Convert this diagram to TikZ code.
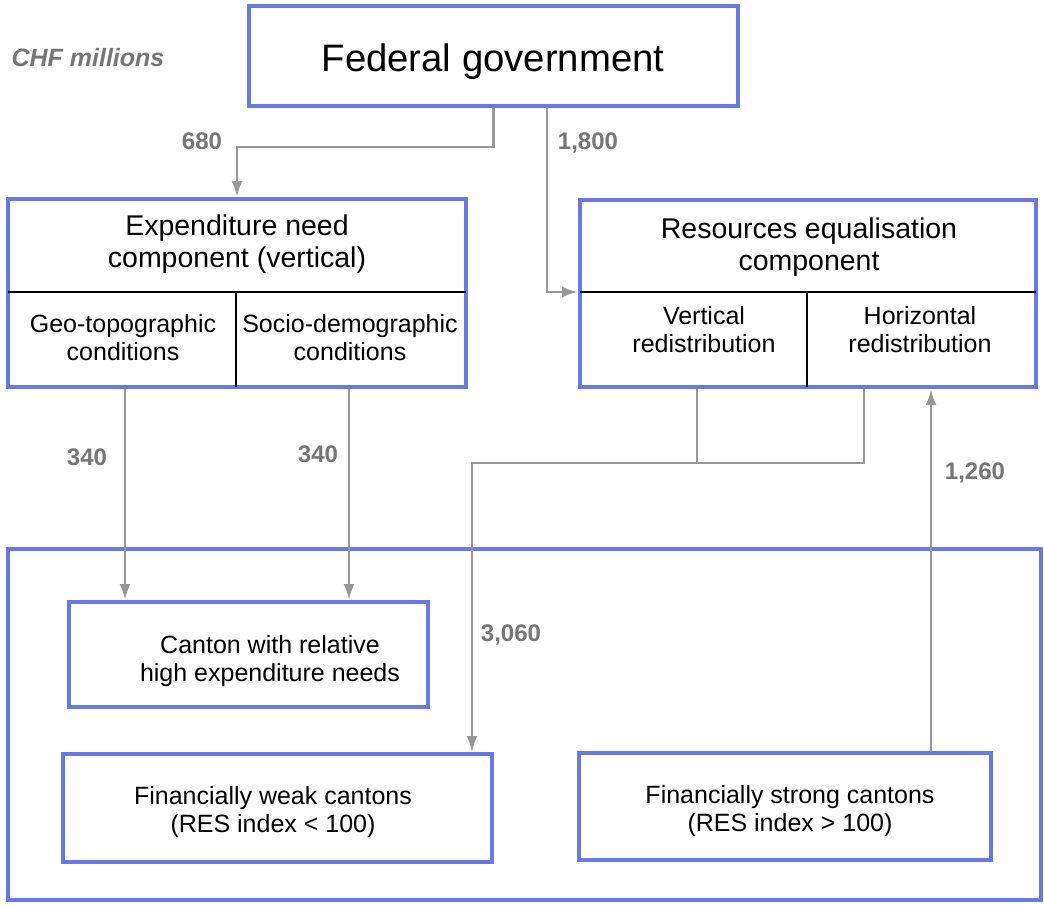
\documentclass[tikz,border=0pt]{standalone}
\usepackage{fontspec}
\setmainfont{Liberation Sans}
\usetikzlibrary{arrows.meta}
\definecolor{boxblue}{RGB}{104,120,230}
\definecolor{arrowgray}{RGB}{152,152,152}
\definecolor{labelgray}{RGB}{118,118,118}
\tikzset{
  box/.style={draw=boxblue, line width=4pt, inner sep=0pt, fill=white},
  divider/.style={draw=black, line width=1.5pt},
  flow/.style={draw=arrowgray, line width=2.5pt, -{Latex[length=16pt,width=11pt]}},
  flowline/.style={draw=arrowgray, line width=2.5pt},
  lbl/.style={text=labelgray, font=\fontsize{24}{28}\selectfont\bfseries, inner sep=0pt},
  bigtxt/.style={font=\fontsize{28.5}{31.5}\selectfont, align=center, inner sep=0pt, anchor=base},
  smalltxt/.style={font=\fontsize{25}{28}\selectfont, align=center, inner sep=0pt, anchor=base},
}
\begin{document}
\begin{tikzpicture}[x=1pt,y=-1pt]
\useasboundingbox (0,0) rectangle (1044,907);
% boxes
\node[box, minimum width=489pt, minimum height=100pt] (fed) at (493.5,56) {};
\node[box, minimum width=458pt, minimum height=188pt] (exp) at (237,293) {};
\node[box, minimum width=456pt, minimum height=187pt] (res) at (808,293.5) {};
\node[box, minimum width=1033pt, minimum height=351pt] (big) at (524.5,724.5) {};
\node[box, minimum width=359pt, minimum height=105pt] (canton) at (248.5,654.5) {};
\node[box, minimum width=429pt, minimum height=108pt] (weak) at (277.5,808) {};
\node[box, minimum width=412pt, minimum height=107pt] (strong) at (785,806.5) {};
% dividers
\draw[divider] ([xshift=2pt]exp.west |- 0,292) -- ([xshift=-2pt]exp.east |- 0,292);
\draw[divider] (236,292) -- ([yshift=2pt]236,0 |- exp.south);
\draw[divider] ([xshift=2pt]res.west |- 0,292) -- ([xshift=-2pt]res.east |- 0,292);
\draw[divider] (807,292) -- ([yshift=2pt]807,0 |- res.south);
% texts (base anchor = baseline of the last line)
\node[inner sep=0pt, anchor=base, font=\fontsize{38.3}{42}\selectfont] (fedt) at (493,71) {Federal government};
\node[text=labelgray, inner sep=0pt, font=\fontsize{25}{28}\selectfont\bfseries\itshape] (chf) at (88,58) {CHF millions};
\node[bigtxt] (expt) at (237,267) {Expenditure need\\component (vertical)};
\node[bigtxt] (rest) at (809,270) {Resources equalisation\\component};
\node[smalltxt] (geot) at (123,360) {Geo-topographic\\conditions};
\node[smalltxt] (soct) at (350,360) {Socio-demographic\\conditions};
\node[smalltxt] (vert) at (704,352) {Vertical\\redistribution};
\node[smalltxt] (hort) at (920,352) {Horizontal\\redistribution};
\node[smalltxt] (cant) at (270,681) {Canton with relative\\high expenditure needs};
\node[smalltxt] (weakt) at (273,832) {Financially weak cantons\\(RES index < 100)};
\node[smalltxt] (strongt) at (790,831) {Financially strong cantons\\(RES index > 100)};
% connectors
\draw[flow] (fed.south) -- ++(0,39) -| (exp.north);
\draw[flow] (547,0 |- fed.south) |- (res.west |- 0,292);
\draw[flow] (125,0 |- exp.south) -- (125,0 |- canton.north);
\draw[flow] (349,0 |- exp.south) -- (349,0 |- canton.north);
\coordinate (join) at (697,463);
\draw[flowline] (697,0 |- res.south) -- (join);
\draw[flow] (864,0 |- res.south) |- (join) -| (472,0 |- weak.north);
\draw[flow] (931,0 |- strong.north) -- (931,0 |- res.south);
% labels
\node[lbl] (l680) at (202,141) {680};
\node[lbl] (l1800) at (588,143) {1,800};
\node[lbl] (l340a) at (87,457) {340};
\node[lbl] (l340b) at (318,454) {340};
\node[lbl] (l3060) at (511,635) {3,060};
\node[lbl] (l1260) at (975,473) {1,260};
\end{tikzpicture}
\end{document}
